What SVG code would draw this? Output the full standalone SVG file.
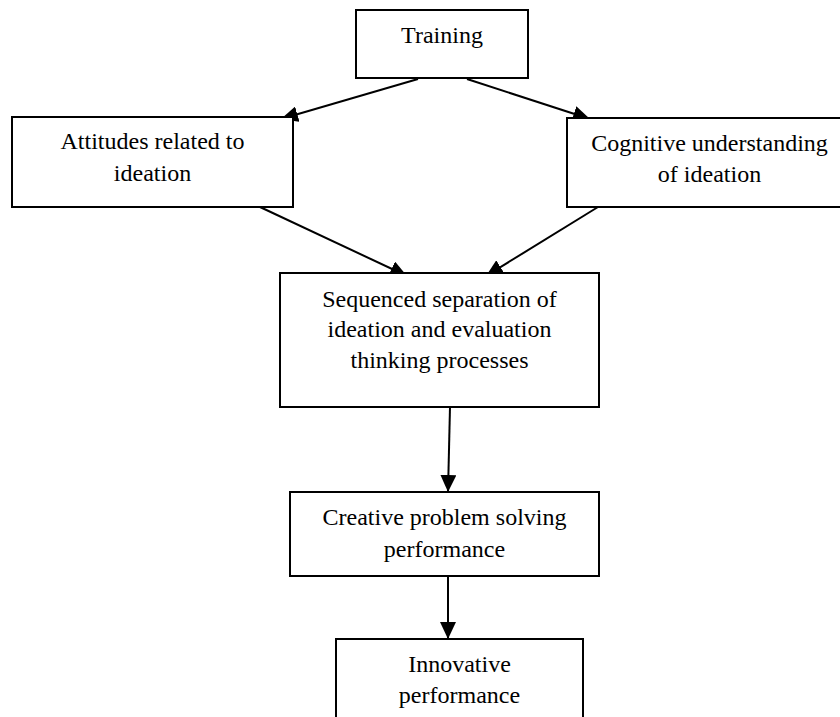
<svg xmlns="http://www.w3.org/2000/svg" width="840" height="717" viewBox="0 0 840 717">
<style>
.box{fill:#fff;stroke:#000;stroke-width:2}
.lbl{font-family:"Liberation Serif","Times New Roman",serif;font-size:24px;fill:#000;text-anchor:middle}
.edge{stroke:#000;stroke-width:2;fill:none;marker-end:url(#ah)}
</style>
<defs>
<marker id="ah" viewBox="0 0 17 16" refX="17" refY="8" markerWidth="17" markerHeight="16" markerUnits="userSpaceOnUse" orient="auto">
<path d="M0,0 L17,8 L0,16 z" fill="#000"/>
</marker>
</defs>
<rect width="840" height="717" fill="#fff"/>
<g id="connectors">
<line class="edge" x1="418" y1="79" x2="281" y2="119"/>
<line class="edge" x1="467" y1="79" x2="590" y2="119"/>
<line class="edge" x1="260" y1="207" x2="407" y2="276"/>
<line class="edge" x1="598" y1="207" x2="486" y2="276"/>
<line class="edge" x1="450" y1="407" x2="448" y2="492"/>
<line class="edge" x1="448" y1="576" x2="448" y2="639"/>
</g>
<g id="training">
<rect class="box" x="356" y="10" width="172" height="68"/>
<text class="lbl" x="442" y="43">Training</text>
</g>
<g id="attitudes">
<rect class="box" x="12" y="117" width="281" height="90"/>
<text class="lbl" x="152.5" y="149">Attitudes related to</text>
<text class="lbl" x="152.5" y="181">ideation</text>
</g>
<g id="cognitive">
<rect class="box" x="567" y="118" width="290" height="89"/>
<text class="lbl" x="709.5" y="151">Cognitive understanding</text>
<text class="lbl" x="709.5" y="182">of ideation</text>
</g>
<g id="sequenced">
<rect class="box" x="280" y="273" width="319" height="134"/>
<text class="lbl" x="439.5" y="307">Sequenced separation of</text>
<text class="lbl" x="439.5" y="337">ideation and evaluation</text>
<text class="lbl" x="439.5" y="368">thinking processes</text>
</g>
<g id="creative">
<rect class="box" x="290" y="492" width="309" height="84"/>
<text class="lbl" x="444.5" y="525">Creative problem solving</text>
<text class="lbl" x="444.5" y="557">performance</text>
</g>
<g id="innovative">
<rect class="box" x="336" y="639" width="247" height="100"/>
<text class="lbl" x="459.5" y="672">Innovative</text>
<text class="lbl" x="459.5" y="703">performance</text>
</g>
</svg>
